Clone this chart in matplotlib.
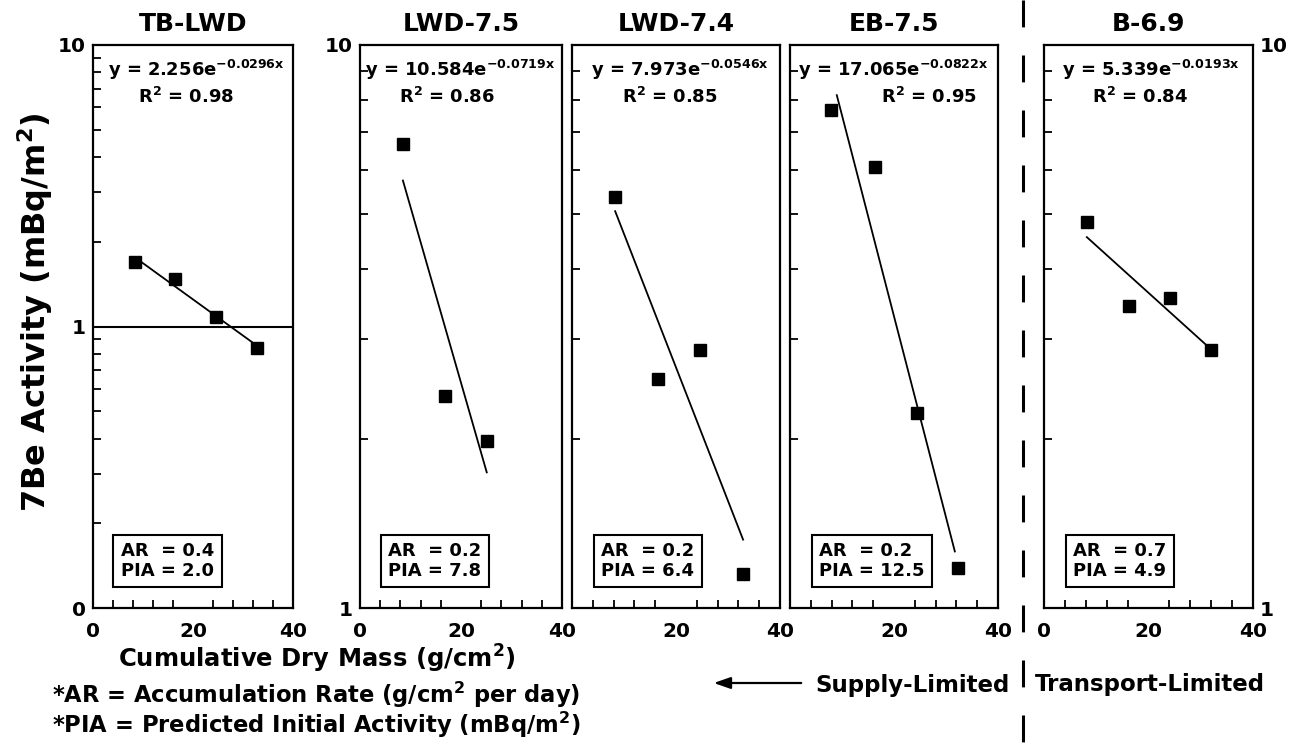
import numpy as np
import matplotlib.pyplot as plt
import matplotlib.ticker as mticker
from matplotlib.lines import Line2D

plt.rcParams["font.family"] = "DejaVu Sans"
plt.rcParams["font.weight"] = "bold"
plt.rcParams["mathtext.fontset"] = "dejavusans"
plt.rcParams["mathtext.default"] = "bf"

# data
sites = ["TB-LWD", "LWD-7.5", "LWD-7.4", "EB-7.5", "B-6.9"]
mass = [
    [8.4, 16.4, 24.6, 32.8],
    [8.5, 16.8, 25.1],
    [8.3, 16.5, 24.6, 32.9],
    [7.9, 16.3, 24.4, 32.3],
    [8.2, 16.3, 24.1, 32.0],
]
activity = [
    [1.69, 1.47, 1.08, 0.84],
    [6.67, 2.38, 1.98],
    [5.37, 2.55, 2.87, 1.15],
    [7.66, 6.07, 2.22, 1.18],
    [4.85, 3.44, 3.55, 2.87],
]
fit_a = [2.256, 10.584, 7.973, 17.065, 5.339]
fit_b = [-0.0296, -0.0719, -0.0546, -0.0822, -0.0193]
fit_x0 = [8.4, 8.5, 8.3, 9.0, 8.2]
fit_x1 = [32.8, 25.1, 32.9, 31.7, 32.0]
r2 = [0.98, 0.86, 0.85, 0.95, 0.84]
ar = [0.4, 0.2, 0.2, 0.2, 0.7]
pia = [2.0, 7.8, 6.4, 12.5, 4.9]

# layout (pixels)
W, H = 1296, 745
panel_lr = [(93, 293), (360, 562), (572, 780), (790, 998), (1044, 1253)]
top_px, bot_px = 45, 608
eq_x = [0.515, 0.495, 0.52, 0.495, 0.51]
r2_x = [0.465, 0.43, 0.47, 0.67, 0.46]


def fx(px):
    return px / W


def fy(px):
    return 1 - px / H


fig = plt.figure(figsize=(W / 100, H / 100), dpi=100)

for i, site in enumerate(sites):
    l, r = panel_lr[i]
    ax = fig.add_axes([fx(l), fy(bot_px), (r - l) / W, (bot_px - top_px) / H])
    ax.set_yscale("log")
    ax.set_xlim(0, 40)
    if i == 0:
        ax.set_ylim(0.1, 10)
        ax.set_yticks([0.1, 1, 10])
        ax.set_yticklabels(["0", "1", "10"])
        ax.axhline(1, color="black", lw=1.5, zorder=1)
    else:
        ax.set_ylim(1, 10)
        ax.set_yticks([1, 10])
        ax.set_yticklabels(["1", "10"])
    ax.yaxis.set_minor_locator(mticker.LogLocator(base=10, subs=np.arange(2, 10)))
    ax.yaxis.set_minor_formatter(mticker.NullFormatter())

    ax.set_xticks([0, 20, 40])
    if i in (2, 3):
        ax.set_xticklabels(["", "20", "40"])
    ax.xaxis.set_minor_locator(mticker.MultipleLocator(4))

    ax.tick_params(which="both", direction="in", labelsize=14.5, width=1.3,
                   top=False, right=False)
    ax.tick_params(which="major", length=0, pad=5)
    ax.tick_params(axis="x", which="major", pad=10)
    ax.tick_params(which="minor", length=6)
    if i in (2, 3):
        ax.tick_params(axis="y", labelleft=False)
    if i == 4:
        ax.tick_params(axis="y", labelleft=False, labelright=True)
    for lab in ax.get_xticklabels() + ax.get_yticklabels():
        lab.set_fontweight("bold")
    for sp in ax.spines.values():
        sp.set_linewidth(1.6)

    ax.plot(mass[i], activity[i], "s", color="black", ms=9, zorder=3)
    xf = np.linspace(fit_x0[i], fit_x1[i], 50)
    ax.plot(xf, fit_a[i] * np.exp(fit_b[i] * xf), color="black", lw=1.3, zorder=2)

    ax.set_title(site, fontsize=18, fontweight="bold", pad=10)
    ax.text(eq_x[i], 0.956, f"y = {fit_a[i]:.3f}e$^{{{fit_b[i]}x}}$",
            transform=ax.transAxes, ha="center", va="center", fontsize=13,
            fontweight="bold")
    ax.text(r2_x[i], 0.907, f"R$^{{2}}$ = {r2[i]:.2f}",
            transform=ax.transAxes, ha="center", va="center", fontsize=13,
            fontweight="bold")
    ax.text(0.14, 0.05, f"AR  = {ar[i]}\nPIA = {pia[i]}",
            transform=ax.transAxes, ha="left", va="bottom", fontsize=13,
            fontweight="bold", linespacing=1.1,
            bbox=dict(boxstyle="square,pad=0.42", facecolor="white",
                      edgecolor="black", linewidth=1.5))

fig.text(fx(35), fy(312), "7Be Activity (mBq/m$^{2}$)", rotation=90,
         ha="center", va="center", fontsize=23, fontweight="bold")
fig.text(fx(118), fy(668), "Cumulative Dry Mass (g/cm$^{2}$)",
         ha="left", va="baseline", fontsize=17.5, fontweight="bold")
fig.text(fx(52), fy(703), "*AR = Accumulation Rate (g/cm$^{2}$ per day)",
         ha="left", va="baseline", fontsize=16.3, fontweight="bold")
fig.text(fx(52), fy(733), "*PIA = Predicted Initial Activity (mBq/m$^{2}$)",
         ha="left", va="baseline", fontsize=16.3, fontweight="bold")

fig.text(fx(1010), fy(692), "Supply-Limited", ha="right", va="baseline",
         fontsize=16.5, fontweight="bold")
fig.text(fx(1035), fy(691), "Transport-Limited", ha="left", va="baseline",
         fontsize=16.5, fontweight="bold")
fig.add_artist(Line2D([fx(1023), fx(1023)], [fy(0), fy(H)],
                      transform=fig.transFigure, color="black", lw=2.2,
                      dashes=(8.8, 9.2)))
plt.annotate("", xy=(fx(711), fy(683)), xytext=(fx(804), fy(683)),
             xycoords="figure fraction",
             arrowprops=dict(arrowstyle="-|>,head_length=1.0,head_width=0.35",
                             color="black", lw=1.6))

plt.savefig("out.png", dpi=100)
